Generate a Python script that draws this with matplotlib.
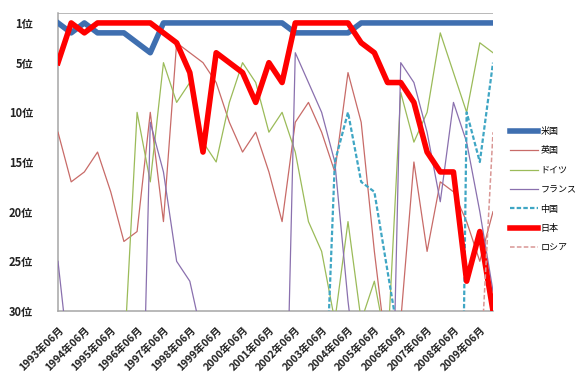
import numpy as np
import matplotlib
matplotlib.use('Agg')
import matplotlib.pyplot as plt
from matplotlib.ticker import FixedLocator

plt.rcParams['font.family'] = ['Noto Sans CJK JP', 'DejaVu Sans']

nan = np.nan

# TOP500 lists, June and November, 1993-2009
periods = []
for y in range(1993, 2010):
    periods.append(f'{y}年06月')
    periods.append(f'{y}年11月')

# best rank of each country (values > 30 run off the chart)
us = [1, 2, 1, 2, 2, 2, 3, 4, 1, 1, 1, 1, 1, 1, 1, 1, 1,
      1, 2, 2, 2, 2, 2, 1, 1, 1, 1, 1, 1, 1, 1, 1, 1, 1]
uk = [12, 17, 16, 14, 18, 23, 22, 10, 21, 3, 4, 5, 7, 11, 14, 12, 16,
      21, 11, 9, 12, 16, 6, 11, 24, 35, 31, 15, 24, 17, 18, 21, 25, 20]
germany = [nan, nan, nan, nan, nan, 35, 10, 17, 5, 9, 7, 13, 15, 9, 5, 7, 12,
           10, 14, 21, 24, 31, 21, 31, 27, 34, 8, 13, 10, 2, 6, 10, 3, 4]
france = [25, 37, nan, nan, nan, nan, 65, 11, 16, 25, 27, 33, nan, nan, nan, nan, nan,
          60, 4, 7, 10, 15, 29, 40, nan, 63, 5, 7, 12, 19, 9, 13, 20, 28]
china = [nan] * 20 + [49, 15, 10, 17, 18, 26, 34, nan, nan, nan, 110, 10, 15, 5]
japan = [5, 1, 2, 1, 1, 1, 1, 1, 2, 3, 6, 14, 4, 5, 6, 9, 5,
         7, 1, 1, 1, 1, 1, 3, 4, 7, 7, 9, 14, 16, 16, 27, 22, 30]
russia = [nan] * 32 + [37, 12]

names = ['米国', '英国', 'ドイツ', 'フランス', '中国', '日本', 'ロシア']
colors = ['#3F6FB0', '#C86B68', '#9BBB59', '#8A70AE', '#3FA6C4', '#FF0000', '#D99694']

fig = plt.figure(figsize=(5.8, 3.74), dpi=100)
ax = fig.add_axes([58 / 580, 1 - 311 / 374, 435 / 580, 298 / 374])

x = np.arange(len(periods))
series = [us, uk, germany, france, china, japan, russia]
for name, vals, c in zip(names, series, colors):
    if name in ('米国', '日本'):
        ax.plot(x, vals, color=c, lw=4, label=name, solid_joinstyle='round', zorder=3)
    elif name == '中国':
        ax.plot(x, vals, color=c, lw=1.6, ls=(0, (2, 1)), label=name, zorder=3)
    elif name == 'ロシア':
        ax.plot(x, vals, color=c, lw=1.1, ls=(0, (3, 1.5)), label=name, zorder=3)
    else:
        ax.plot(x, vals, color=c, lw=0.9, label=name, zorder=3)

ax.set_xlim(0, len(periods) - 1)
ax.set_ylim(30, 0)

ax.set_yticks([1, 5, 10, 15, 20, 25, 30])
ax.set_yticklabels([f'{r}位' for r in [1, 5, 10, 15, 20, 25, 30]], fontsize=8, fontweight='bold')
ax.yaxis.set_minor_locator(FixedLocator([0, 5, 10, 15, 20, 25, 30]))
ax.grid(which='minor', axis='y', color='#A6A6A6', lw=1.1, zorder=1)
ax.tick_params(axis='y', which='both', length=0, pad=18, colors='#222222')

ax.set_xticks(x[::2])
ax.set_xticklabels(periods[::2], rotation=45, ha='right', va='top',
                   rotation_mode='anchor', fontsize=7.5, fontweight='bold')
ax.tick_params(axis='x', length=0, pad=10, colors='#222222')

for s in ['top', 'right']:
    ax.spines[s].set_visible(False)
for s in ['left', 'bottom']:
    ax.spines[s].set_color('#A6A6A6')
    ax.spines[s].set_linewidth(1.1)

fig.legend(loc='upper left', bbox_to_anchor=(510 / 580, 1 - 127 / 374), frameon=False,
           fontsize=6.5, handlelength=3.1, handletextpad=0.25, labelspacing=1.15,
           borderpad=0, borderaxespad=0)

fig.savefig('out.png', dpi=100)
